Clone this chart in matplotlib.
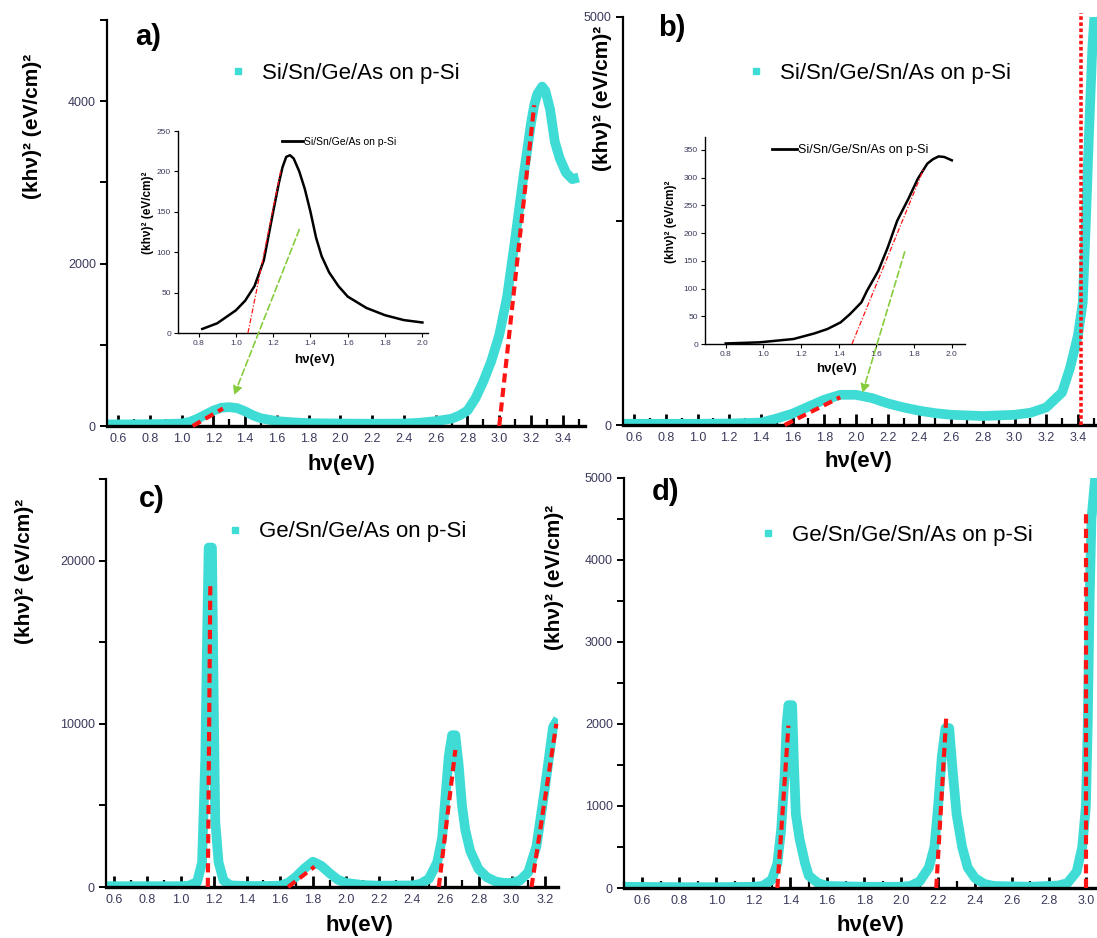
import matplotlib
matplotlib.use("Agg")
import matplotlib.pyplot as plt
from matplotlib.lines import Line2D
from matplotlib.patches import ConnectionPatch
from matplotlib.ticker import MultipleLocator, FormatStrFormatter

plt.rcParams['font.family'] = ['Liberation Sans', 'DejaVu Sans']

# ---------------- data ----------------
# a) Si/Sn/Ge/As on p-Si
a_x = [0.53, 0.7, 0.9, 1.0, 1.05, 1.1, 1.15, 1.2, 1.25, 1.3, 1.35, 1.4, 1.45, 1.5, 1.6, 1.7,
       1.8, 2.0, 2.2, 2.4, 2.5, 2.6, 2.7, 2.75, 2.8, 2.85, 2.9, 2.95, 3.0, 3.05, 3.1, 3.15,
       3.2, 3.22, 3.24, 3.27, 3.29, 3.32, 3.35, 3.38, 3.42, 3.46, 3.5]
a_y = [20, 20, 25, 30, 50, 90, 140, 190, 225, 232, 220, 180, 130, 95, 60, 45,
       35, 30, 28, 30, 40, 60, 90, 130, 190, 340, 550, 800, 1120, 1600, 2300, 3040,
       3730, 3950, 4090, 4180, 4130, 3900, 3500, 3300, 3120, 3040, 3060]
a_fits = [((1.07, 1.26), (0, 215)), ((3.0, 3.22), (0, 3950))]

# b) Si/Sn/Ge/Sn/As on p-Si
b_x = [0.53, 0.8, 1.0, 1.2, 1.4, 1.5, 1.6, 1.7, 1.8, 1.9, 2.0, 2.1, 2.2, 2.3, 2.4, 2.5,
       2.6, 2.8, 3.0, 3.1, 3.2, 3.3, 3.35, 3.4, 3.43, 3.45, 3.47, 3.49, 3.51, 3.53]
b_y = [15, 15, 15, 18, 30, 80, 140, 225, 310, 370, 370, 330, 265, 215, 175, 145,
       125, 110, 125, 150, 215, 400, 700, 1100, 1500, 2500, 3600, 4600, 5200, 5400]
b_fits = [((1.55, 1.9), (0, 340))]
b_edge = 3.42

# c) Ge/Sn/Ge/As on p-Si
c_x = [0.55, 0.8, 1.0, 1.05, 1.1, 1.13, 1.15, 1.16, 1.17, 1.19, 1.2, 1.21, 1.23, 1.26, 1.3,
       1.4, 1.5, 1.6, 1.65, 1.7, 1.75, 1.8, 1.85, 1.9, 1.95, 2.0, 2.1, 2.2, 2.4, 2.45, 2.5,
       2.55, 2.58, 2.6, 2.62, 2.64, 2.66, 2.68, 2.7, 2.72, 2.75, 2.8, 2.85, 2.9, 2.95, 3.0,
       3.05, 3.1, 3.15, 3.2, 3.25, 3.28]
c_y = [50, 50, 50, 80, 300, 1500, 8000, 15000, 20800, 20800, 12000, 4000, 1500, 400, 100,
       60, 60, 80, 250, 650, 1150, 1550, 1300, 850, 450, 250, 120, 80, 100, 200, 500,
       1500, 3000, 5500, 8000, 9300, 9300, 7500, 5000, 3500, 2200, 1100, 600, 350, 250, 250,
       400, 900, 2500, 6000, 9800, 10300]
c_fits = [((1.165, 1.18), (0, 18500)), ((1.65, 1.81), (0, 1250)),
          ((2.56, 2.66), (0, 8400)), ((3.12, 3.27), (0, 10000))]

# d) Ge/Sn/Ge/Sn/As on p-Si
d_x = [0.5, 0.8, 1.0, 1.2, 1.25, 1.3, 1.33, 1.35, 1.37, 1.38, 1.39, 1.41, 1.42, 1.43, 1.45,
       1.48, 1.5, 1.55, 1.6, 1.8, 2.0, 2.05, 2.1, 2.15, 2.18, 2.2, 2.22, 2.24, 2.26, 2.28,
       2.3, 2.33, 2.36, 2.4, 2.45, 2.5, 2.7, 2.85, 2.9, 2.95, 2.98, 3.0, 3.01, 3.02, 3.03,
       3.05, 3.07]
d_y = [15, 10, 10, 15, 25, 100, 300, 700, 1400, 2000, 2230, 2230, 1500, 900, 600,
       300, 150, 60, 25, 15, 15, 25, 80, 250, 500, 1000, 1600, 1950, 1950, 1400,
       900, 500, 250, 120, 50, 25, 15, 30, 60, 200, 500, 1000, 2000, 3500, 4500,
       5000, 5200]
d_fits = [((1.33, 1.39), (0, 1980)), ((2.19, 2.245), (0, 2120)), ((3.0, 3.0), (0, 4600))]

# insets
ia_x = [0.82, 0.9, 1.0, 1.05, 1.1, 1.15, 1.2, 1.23, 1.25, 1.27, 1.29, 1.31, 1.34, 1.37,
        1.4, 1.43, 1.46, 1.5, 1.55, 1.6, 1.7, 1.8, 1.9, 2.0]
ia_y = [5, 12, 28, 40, 58, 90, 150, 185, 205, 218, 220, 216, 200, 178,
        150, 118, 95, 75, 58, 45, 31, 22, 16, 13]
ia_fit = ((1.065, 1.24), (0, 200))

ib_x = [0.8, 0.98, 1.16, 1.27, 1.34, 1.41, 1.46, 1.52, 1.55, 1.61, 1.66, 1.71, 1.77,
        1.82, 1.87, 1.9, 1.93, 1.96, 2.0]
ib_y = [1, 3, 9, 19, 27, 39, 54, 75, 96, 132, 174, 222, 262,
        298, 325, 333, 338, 337, 331]
ib_fit = ((1.47, 1.85), (0, 315))

labels = ["Si/Sn/Ge/As on p-Si", "Si/Sn/Ge/Sn/As on p-Si",
          "Ge/Sn/Ge/As on p-Si", "Ge/Sn/Ge/Sn/As on p-Si"]
YLAB = "(khν)² (eV/cm)²"
XLAB = "hν(eV)"

# ---------------- figure ----------------
W, H = 1097, 938
fig = plt.figure(figsize=(W / 100, H / 100), dpi=100)

CYAN = '#3fdcd6'
RED = '#ff1414'
GREEN = '#86cc3e'
TICKC = '#3a3a5c'


def rect(x0, y0, x1, y1):
    return [x0 / W, 1 - y1 / H, (x1 - x0) / W, (y1 - y0) / H]


def fxy(x, y):
    return (x / W, 1 - y / H)


def style_main(ax, xlim, ylim, ymaj, ymin):
    ax.set_xlim(*xlim)
    ax.set_ylim(*ylim)
    ax.patch.set_visible(False)
    for s in ('top', 'right'):
        ax.spines[s].set_visible(False)
    ax.spines['left'].set_linewidth(1.6)
    ax.spines['bottom'].set_linewidth(2.4)
    ax.xaxis.set_major_locator(MultipleLocator(0.2))
    ax.xaxis.set_minor_locator(MultipleLocator(0.1))
    ax.xaxis.set_major_formatter(FormatStrFormatter('%.1f'))
    ax.yaxis.set_major_locator(MultipleLocator(ymaj))
    ax.yaxis.set_minor_locator(MultipleLocator(ymin))
    ax.yaxis.set_major_formatter(FormatStrFormatter('%d'))
    ax.tick_params(axis='x', which='major', direction='in', length=8, width=2,
                   labelsize=9, labelcolor=TICKC, pad=5)
    ax.tick_params(axis='x', which='minor', direction='in', length=5, width=1.6)
    ax.tick_params(axis='y', which='both', direction='out', length=5, width=1.4,
                   labelsize=9, labelcolor=TICKC, pad=3)


def style_inset(ax, xlim, ylim):
    ax.set_xlim(*xlim)
    ax.set_ylim(*ylim)
    ax.patch.set_visible(False)
    for s in ('top', 'right'):
        ax.spines[s].set_visible(False)
    for s in ('left', 'bottom'):
        ax.spines[s].set_linewidth(1.0)
    ax.xaxis.set_major_locator(MultipleLocator(0.2))
    ax.xaxis.set_major_formatter(FormatStrFormatter('%.1f'))
    ax.yaxis.set_major_locator(MultipleLocator(50))
    ax.tick_params(axis='both', direction='out', length=3, width=0.8,
                   labelsize=6, labelcolor=TICKC, pad=2)


def draw_series(ax, x, y, fits, label, legend_px):
    ax.plot(x, y, color=CYAN, lw=7, solid_joinstyle='round',
            solid_capstyle='butt', zorder=2)
    for (fx, fy) in fits:
        ax.plot(fx, fy, color=RED, lw=3, ls=(0, (2.2, 1.3)), zorder=3,
                clip_on=False)
    h = Line2D([], [], ls='none', marker='s', ms=5, mfc=CYAN, mec=CYAN)
    ax.legend(handles=[h], labels=[label], loc='center left',
              bbox_to_anchor=fxy(*legend_px), bbox_transform=fig.transFigure,
              frameon=False, fontsize=16, handlelength=0.8, handletextpad=0.7,
              borderpad=0, borderaxespad=0)


# main panels
ax_a = fig.add_axes(rect(107, 20, 585, 426))
style_main(ax_a, (0.53, 3.54), (0, 5000), 2000, 1000)
draw_series(ax_a, a_x, a_y, a_fits, labels[0], (229, 73))

ax_b = fig.add_axes(rect(623, 17, 1097, 425))
style_main(ax_b, (0.53, 3.52), (0, 5000), 5000, 2500)
draw_series(ax_b, b_x, b_y, b_fits, labels[1], (747, 73))
ax_b.plot([b_edge, b_edge], [0, 5050], color=RED, lw=2.6, ls=(0, (1.0, 0.7)),
          zorder=3, clip_on=False)

ax_c = fig.add_axes(rect(106, 479, 558, 887))
style_main(ax_c, (0.55, 3.28), (0, 25000), 10000, 5000)
draw_series(ax_c, c_x, c_y, c_fits, labels[2], (226, 532))

ax_d = fig.add_axes(rect(624, 478, 1097, 888))
style_main(ax_d, (0.5, 3.06), (0, 5000), 1000, 500)
draw_series(ax_d, d_x, d_y, d_fits, labels[3], (759, 535))

# insets
ia = fig.add_axes(rect(178, 131, 428, 333))
style_inset(ia, (0.69, 2.03), (0, 250))
ia.plot(ia_x, ia_y, color='black', lw=1.8, zorder=2)
ia.plot(*ia_fit, color=RED, lw=0.9, ls=(0, (4, 1.5, 1, 1.5)), zorder=3)
ia.legend(handles=[Line2D([], [], color='black', lw=2)], labels=[labels[0]],
          loc='center left', bbox_to_anchor=fxy(282, 142),
          bbox_transform=fig.transFigure, frameon=False, fontsize=7.5,
          handlelength=2.0, handletextpad=0.1, borderpad=0, borderaxespad=0)

ib = fig.add_axes(rect(705, 137, 965, 344))
style_inset(ib, (0.69, 2.07), (0, 373))
ib.plot(ib_x, ib_y, color='black', lw=1.8, zorder=2)
ib.plot(*ib_fit, color=RED, lw=0.9, ls=(0, (4, 1.5, 1, 1.5)), zorder=3)
ib.legend(handles=[Line2D([], [], color='black', lw=2)], labels=[labels[1]],
          loc='center left', bbox_to_anchor=fxy(772, 150),
          bbox_transform=fig.transFigure, frameon=False, fontsize=9,
          handlelength=2.0, handletextpad=0.1, borderpad=0, borderaxespad=0)

# green pointers from insets to the low-energy features
for src_ax, src, dst_ax, dst in [(ia, (1.34, 128), ax_a, (1.33, 380)),
                                 (ib, (1.75, 166), ax_b, (2.04, 392))]:
    con = ConnectionPatch(xyA=src, coordsA=src_ax.transData,
                          xyB=dst, coordsB=dst_ax.transData,
                          arrowstyle='-|>', mutation_scale=13, lw=1.2,
                          ls=(0, (4, 2)), color=GREEN, fc=GREEN, zorder=5)
    fig.add_artist(con)

# panel letters
for txt, (px, py) in [("a)", (148, 37)), ("b)", (672, 28)),
                      ("c)", (152, 499)), ("d)", (666, 492))]:
    fig.text(*fxy(px, py), txt, fontsize=21, fontweight='bold',
             ha='center', va='center')

# axis titles
for (px, py) in [(33, 126), (602, 98), (25, 571), (554, 577)]:
    fig.text(*fxy(px, py), YLAB, fontsize=15, fontweight='bold',
             rotation=90, ha='center', va='center')
for (px, py) in [(341, 464), (858, 461), (359, 925), (870, 925)]:
    fig.text(*fxy(px, py), XLAB, fontsize=16, fontweight='bold',
             ha='center', va='center')

# inset axis titles
fig.text(*fxy(148, 213), YLAB, fontsize=8.5, fontweight='bold',
         rotation=90, ha='center', va='center')
fig.text(*fxy(314, 360), XLAB, fontsize=9.5, fontweight='bold',
         ha='center', va='center')
fig.text(*fxy(671, 222), YLAB, fontsize=8.5, fontweight='bold',
         rotation=90, ha='center', va='center')
fig.text(*fxy(836, 369), XLAB, fontsize=9.5, fontweight='bold',
         ha='center', va='center')

fig.savefig("out.png", dpi=100)
